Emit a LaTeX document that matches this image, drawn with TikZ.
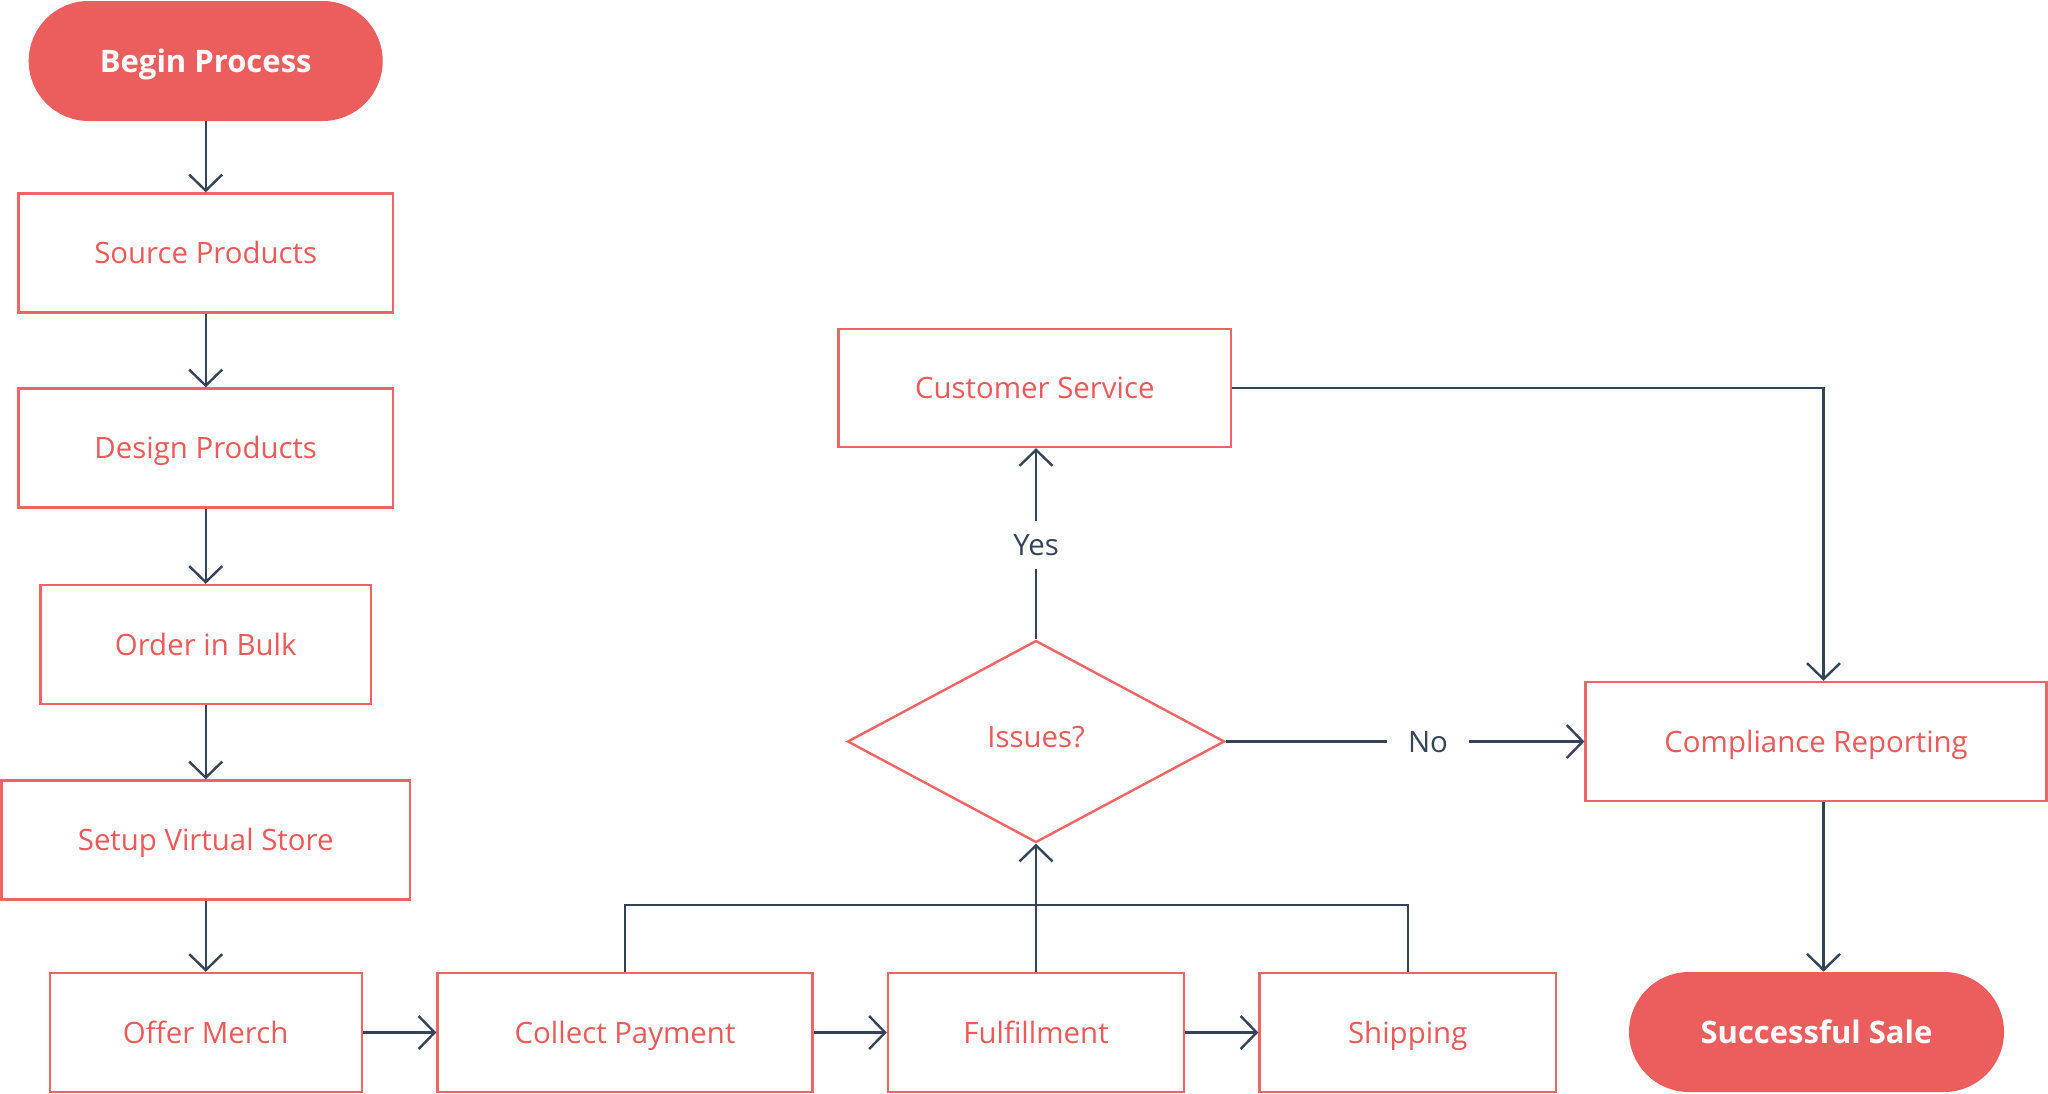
\documentclass[tikz,border=0pt]{standalone}
\usepackage{fontspec}
\setmainfont{Open Sans}
\usetikzlibrary{arrows.meta,shapes.geometric}
\definecolor{rfill}{HTML}{EC5E5E}
\definecolor{rline}{HTML}{EF6464}
\definecolor{rtext}{HTML}{EB5959}
\definecolor{dark}{HTML}{34435A}
\begin{document}
\begin{tikzpicture}[x=0.5pt,y=-0.5pt,
  box/.style={rectangle,draw=rline,line width=1.2pt,fill=white,text=rtext,
    font=\fontsize{14.7}{18}\selectfont,inner sep=0pt,minimum height=59.5pt,
    text height=10.5pt,text depth=0pt},
  term/.style={rectangle,fill=rfill,text=white,font=\fontsize{15.5}{18}\selectfont\bfseries,
    rounded corners=30pt,inner sep=0pt,minimum height=60pt,
    text height=11pt,text depth=0pt},
  conn/.style={draw=dark,line width=1.2pt},
  arr/.style={conn,-{Straight Barb[length=8pt,width=16.5pt]}},
  lbl/.style={text=dark,font=\fontsize{14.7}{18}\selectfont,inner sep=0pt,
    text height=10.5pt,text depth=0pt}
]
\useasboundingbox (0,0) rectangle (2048,1093);

% left column
\node[term,minimum width=177pt] (begin) at (205.7,61) {Begin Process};
\node[box,minimum width=187.4pt] (source) at (205.7,253) {Source Products};
\node[box,minimum width=187.4pt] (design) at (205.7,448) {Design Products};
\node[box,minimum width=165.2pt] (order) at (205.7,644.5) {Order in Bulk};
\node[box,minimum width=204.4pt] (setup) at (205.7,840) {Setup Virtual Store};
\node[box,minimum width=156pt] (offer) at (205.7,1032.5) {Offer Merch};

% bottom row
\node[box,minimum width=187.5pt] (collect) at (625,1032.5) {Collect Payment};
\node[box,minimum width=148pt] (fulfill) at (1036,1032.5) {Fulfillment};
\node[box,minimum width=148.2pt] (ship) at (1407.7,1032.5) {Shipping};
\node[term,minimum width=187.5pt] (sale) at (1816.5,1032) {Successful Sale};

% middle
\node[diamond,draw=rline,line width=1.2pt,fill=white,text=rtext,
  font=\fontsize{14.7}{18}\selectfont,inner sep=0pt,text height=10.5pt,text depth=5pt,
  minimum width=188.5pt,minimum height=101pt] (issues) at (1036,741.5) {Issues?};
\node[box,minimum width=196.2pt,minimum height=59pt] (cs) at (1034.8,388) {Customer Service};
\node[box,minimum width=230.5pt] (comp) at (1816.1,741.5) {Compliance Reporting};

% labels
\node[lbl,minimum height=24pt] (yes) at (1036,545) {Yes};
\node[lbl,minimum width=41pt] (no) at (1428,741.5) {No};

\coordinate (busy) at (0,905);
\coordinate (cx) at (1823.5,0);

% connectors
\draw[arr] (begin) -- (source);
\draw[arr] (source) -- (design);
\draw[arr] (design) -- (order);
\draw[arr] (order) -- (setup);
\draw[arr] (setup) -- (offer);
\draw[arr] (offer) -- (collect);
\draw[arr] (collect) -- (fulfill);
\draw[arr] (fulfill) -- (ship);
\draw[conn] (collect.north) -- (collect.north |- busy) -- (ship.north |- busy) -- (ship.north);
\draw[arr] (fulfill.north) -- (issues.south);
\draw[conn] (issues.north) -- (yes.south);
\draw[arr] (yes.north) -- (yes.north |- cs.south);
\draw[conn] (issues.east) -- (no.west);
\draw[arr] (no.east) -- (comp.west);
\draw[arr] (cs.east) -| (cx |- comp.north);
\draw[arr] (cx |- comp.south) -- (cx |- sale.north);
\end{tikzpicture}
\end{document}
